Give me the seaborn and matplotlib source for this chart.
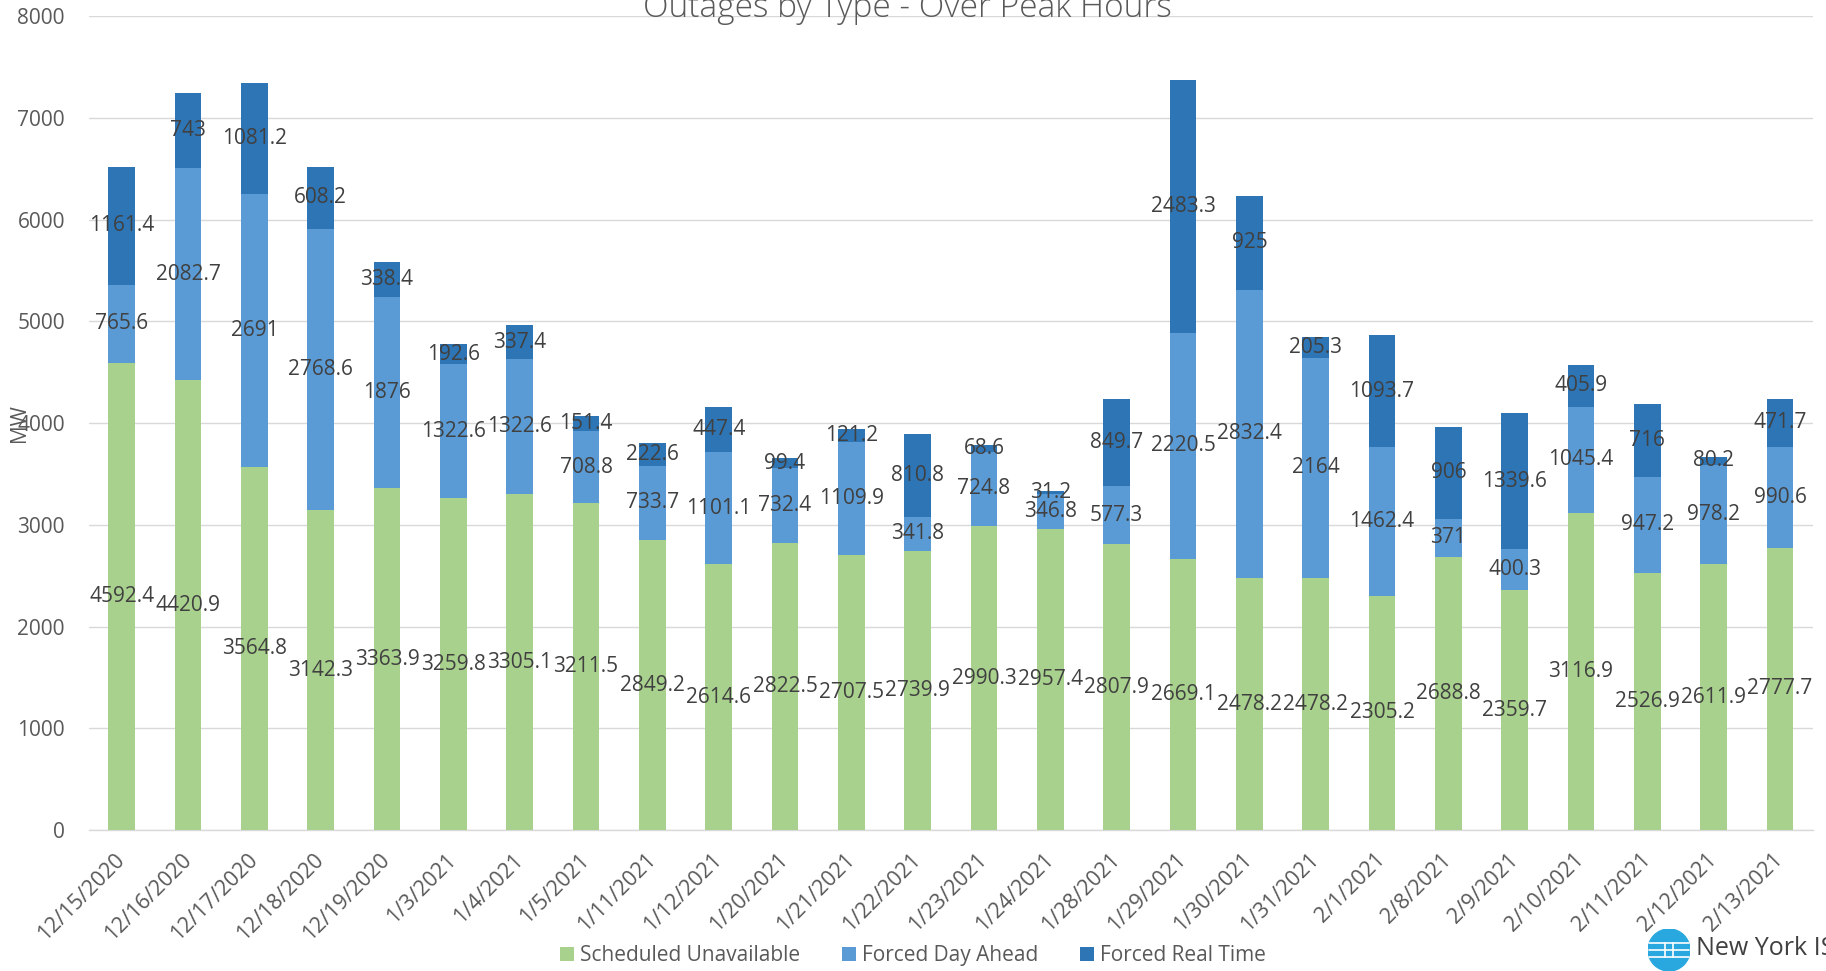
import matplotlib
matplotlib.use("Agg")
import matplotlib.pyplot as plt
import seaborn as sns
import pandas as pd
import numpy as np
from matplotlib.patches import Patch, Circle

# chart data
dates = ["12/15/2020", "12/16/2020", "12/17/2020", "12/18/2020", "12/19/2020",
         "1/3/2021", "1/4/2021", "1/5/2021", "1/11/2021", "1/12/2021",
         "1/20/2021", "1/21/2021", "1/22/2021", "1/23/2021", "1/24/2021",
         "1/28/2021", "1/29/2021", "1/30/2021", "1/31/2021", "2/1/2021",
         "2/8/2021", "2/9/2021", "2/10/2021", "2/11/2021", "2/12/2021", "2/13/2021"]
scheduled = [4592.4, 4420.9, 3564.8, 3142.3, 3363.9, 3259.8, 3305.1, 3211.5, 2849.2, 2614.6,
             2822.5, 2707.5, 2739.9, 2990.3, 2957.4, 2807.9, 2669.1, 2478.2, 2478.2, 2305.2,
             2688.8, 2359.7, 3116.9, 2526.9, 2611.9, 2777.7]
day_ahead = [765.6, 2082.7, 2691, 2768.6, 1876, 1322.6, 1322.6, 708.8, 733.7, 1101.1,
             732.4, 1109.9, 341.8, 724.8, 346.8, 577.3, 2220.5, 2832.4, 2164, 1462.4,
             371, 400.3, 1045.4, 947.2, 978.2, 990.6]
real_time = [1161.4, 743, 1081.2, 608.2, 338.4, 192.6, 337.4, 151.4, 222.6, 447.4,
             99.4, 121.2, 810.8, 68.6, 31.2, 849.7, 2483.3, 925, 205.3, 1093.7,
             906, 1339.6, 405.9, 716, 80.2, 471.7]
series_names = ["Scheduled Unavailable", "Forced Day Ahead", "Forced Real Time"]
colors = ["#A9D18E", "#5B9BD5", "#2E75B6"]

df = pd.DataFrame({"Date": dates, "Scheduled": scheduled,
                   "DayAhead": day_ahead, "RealTime": real_time})
df["cum1"] = df["Scheduled"]
df["cum2"] = df["cum1"] + df["DayAhead"]
df["cum3"] = df["cum2"] + df["RealTime"]

sns.set_theme(style="white")
plt.rcParams["font.family"] = ["Open Sans", "DejaVu Sans"]

fig = plt.figure(figsize=(18.26, 9.71), dpi=100)
ax = fig.add_axes([0.0485, 0.145, 0.9445, 0.8385])

# stacked bars: draw cumulative totals from tallest to shortest
for col, c in zip(["cum3", "cum2", "cum1"], colors[::-1]):
    sns.barplot(data=df, x="Date", y=col, order=dates, color=c, saturation=1,
                width=0.4, ax=ax, errorbar=None, zorder=3, linewidth=0)

# data labels centred on each segment
for vals, bottoms in [(df["Scheduled"], np.zeros(len(df))),
                      (df["DayAhead"], df["cum1"]),
                      (df["RealTime"], df["cum2"])]:
    for i, (v, b) in enumerate(zip(vals, bottoms)):
        ax.text(i, b + v / 2, f"{v:g}", ha="center", va="center",
                fontsize=15, color="#404040", zorder=5)

ax.set_ylim(0, 8000)
ax.set_yticks(np.arange(0, 8001, 1000))
ax.set_xlim(-0.5, len(dates) - 0.5)
ax.yaxis.grid(True, color="#D9D9D9", linewidth=1.0, zorder=0)
ax.set_axisbelow(True)
for s in ["top", "right", "left"]:
    ax.spines[s].set_visible(False)
ax.spines["bottom"].set_color("#D9D9D9")
ax.spines["bottom"].set_linewidth(1.0)

ax.tick_params(axis="y", length=0, pad=17, labelsize=15, labelcolor="#595959")
ax.tick_params(axis="x", which="major", length=0, pad=19, labelsize=15.5, labelcolor="#595959")
ax.set_xticks(np.arange(-0.5, len(dates), 1.0), minor=True)
ax.tick_params(axis="x", which="minor", length=4.5, width=1.0, color="#D9D9D9", direction="out")
for lab in ax.get_xticklabels():
    lab.set_rotation(45)
    lab.set_rotation_mode("anchor")
    lab.set_ha("right")
    lab.set_va("center")

ax.set_xlabel("")
ax.set_ylabel("MW", fontsize=15, color="#595959")
ax.yaxis.set_label_coords(-0.034, 0.5)

fig.text(0.497, 0.9825, "Outages by Type - Over Peak Hours", ha="center", va="baseline",
         fontsize=24, color="#595959", fontweight="light")

handles = [Patch(facecolor=c, edgecolor="none") for c in colors]
fig.legend(handles, series_names, loc="center", bbox_to_anchor=(0.5, 0.0155), ncol=3,
           frameon=False, fontsize=15, labelcolor="#595959", handlelength=0.67,
           handleheight=0.67, handletextpad=0.3, columnspacing=2.0,
           borderpad=0, borderaxespad=0)

# NYISO logo mark
lax = fig.add_axes([1648 / 1826, 0.0, 42 / 1826, 42 / 971])
lax.set_xlim(-1, 1)
lax.set_ylim(-1, 1)
lax.set_aspect("equal")
lax.axis("off")
lax.add_patch(Circle((0, 0), 1, color="#29A8E0"))
for y in [-0.35, 0.0, 0.35]:
    lax.plot([-0.95, 0.95], [y, y], color="white", lw=1.2)
lax.plot([-0.2, -0.2], [-0.35, 0.35], color="white", lw=1.2)
lax.plot([0.2, 0.2], [-0.35, 0.35], color="white", lw=1.2)
fig.text(1696 / 1826, 16 / 971, "New York ISO", fontsize=18, color="#404040", va="baseline")

fig.savefig("out.png", dpi=100)
